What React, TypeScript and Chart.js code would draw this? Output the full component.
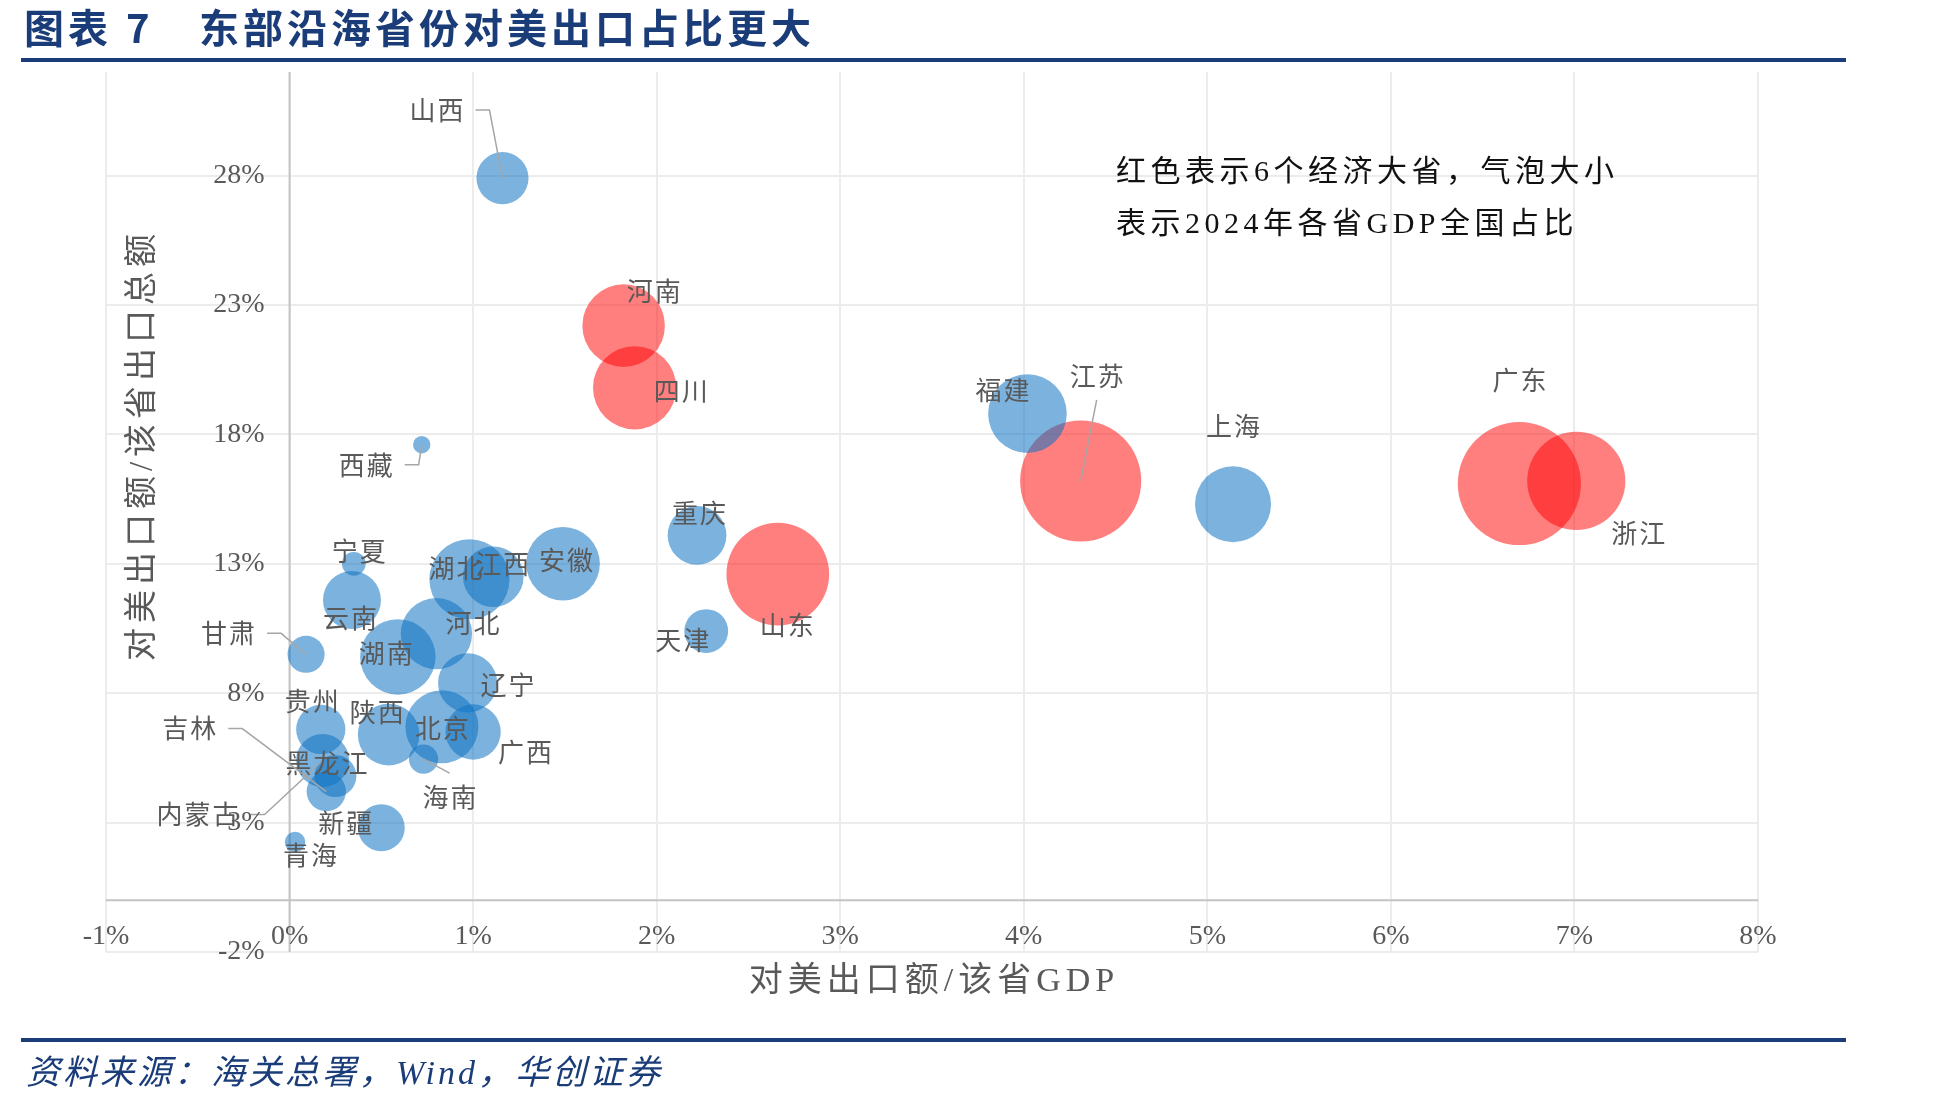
import React, { useEffect, useRef } from 'react';
import { Chart, registerables } from 'chart.js';

Chart.register(...registerables);

// Provinces and their values
const provinces = [
  '山西', '河南', '四川', '西藏', '福建', '江苏', '上海', '广东', '浙江', '重庆',
  '山东', '天津', '安徽', '江西', '湖北', '宁夏', '云南', '河北', '湖南', '甘肃',
  '辽宁', '贵州', '陕西', '北京', '广西', '海南', '内蒙古', '黑龙江', '吉林', '新疆', '青海',
];
// exports to the US / provincial GDP (%)
const exportToGdp = [
  1.16, 1.82, 1.88, 0.72, 4.02, 4.31, 5.14, 6.70, 7.01, 2.22,
  2.66, 2.27, 1.49, 1.11, 0.98, 0.35, 0.34, 0.80, 0.59, 0.09,
  0.97, 0.17, 0.54, 0.83, 1.00, 0.73, 0.18, 0.25, 0.20, 0.50, 0.03,
];
// exports to the US / total provincial exports (%)
const usShareOfExports = [
  27.9, 22.2, 19.8, 17.6, 18.8, 16.2, 15.3, 16.1, 16.2, 14.1,
  12.6, 10.4, 13.0, 12.5, 12.4, 13.0, 11.6, 10.3, 9.4, 9.5,
  8.4, 6.6, 6.4, 6.7, 6.5, 5.45, 5.4, 4.8, 4.2, 2.8, 2.25,
];
// 2024 provincial GDP as share of national GDP (%) -> bubble area
const gdpShare2024 = [
  1.88, 4.72, 4.80, 0.21, 4.28, 10.16, 4.00, 10.50, 6.68, 2.39,
  7.31, 1.33, 3.75, 2.54, 4.45, 0.39, 2.33, 3.52, 3.94, 0.95,
  2.42, 1.68, 2.63, 3.69, 2.12, 0.59, 1.95, 1.22, 1.07, 1.52, 0.29,
];
const majorProvinces = ['广东', '江苏', '山东', '浙江', '四川', '河南'];

const xTickValues = [-1, 0, 1, 2, 3, 4, 5, 6, 7, 8];
const yTickValues = [-2, 3, 8, 13, 18, 23, 28];

const titleText = '东部沿海省份对美出口占比更大';
const sourceText = '资料来源：海关总署，Wind，华创证券';
const noteLines = ['红色表示6个经济大省，气泡大小', '表示2024年各省GDP全国占比'];
const xAxisTitle = '对美出口额/该省GDP';
const yAxisTitle = '对美出口额/该省出口总额';

// ---- styling ----
const NAVY = '#1a3c78';
const LABEL_GREY = '#595959';
const SERIF = '"Liberation Serif", "Noto Sans CJK SC", serif';
const CJK = '"Noto Sans CJK SC", sans-serif';
const BUBBLE_SCALE = 19; // px radius per sqrt(% of GDP)

// label placement relative to bubble centre (px); leader: 'side' | 'below' | 'above'
const labelPlacement: Record<string, { dx: number; dy: number; leader?: string }> = {
  山西: { dx: -66, dy: -68, leader: 'side' },
  河南: { dx: 30, dy: -35 },
  四川: { dx: 46, dy: 3 },
  西藏: { dx: -56, dy: 20, leader: 'side' },
  福建: { dx: -25, dy: -24 },
  江苏: { dx: 16, dy: -105, leader: 'below' },
  上海: { dx: 0, dy: -78 },
  广东: { dx: 0, dy: -103 },
  浙江: { dx: 62, dy: 52 },
  重庆: { dx: 2, dy: -22 },
  山东: { dx: 9, dy: 51 },
  天津: { dx: -24, dy: 9 },
  安徽: { dx: 3, dy: -4 },
  江西: { dx: 9, dy: -13 },
  湖北: { dx: -14, dy: -11 },
  宁夏: { dx: 5, dy: -13 },
  云南: { dx: -2, dy: 18 },
  河北: { dx: 36, dy: -11 },
  湖南: { dx: -12, dy: -4 },
  甘肃: { dx: -78, dy: -21, leader: 'side' },
  辽宁: { dx: 40, dy: 2 },
  贵州: { dx: -9, dy: -28 },
  陕西: { dx: -12, dy: -22 },
  北京: { dx: 0, dy: 1 },
  广西: { dx: 52, dy: 20 },
  海南: { dx: 26, dy: 38, leader: 'above' },
  内蒙古: { dx: -125, dy: 54, leader: 'side' },
  黑龙江: { dx: -9, dy: -13 },
  吉林: { dx: -137, dy: -63, leader: 'side' },
  新疆: { dx: -36, dy: -5 },
  青海: { dx: 15, dy: 13 },
};

function pointsFor(major: boolean) {
  return provinces
    .map((name, i) => ({ name, i }))
    .filter((p) => majorProvinces.includes(p.name) === major)
    .map(({ i }) => ({
      x: exportToGdp[i],
      y: usShareOfExports[i],
      r: BUBBLE_SCALE * Math.sqrt(gdpShare2024[i]),
    }));
}

const decorations = {
  id: 'decorations',
  beforeDatasetsDraw(chart: any) {
    const { ctx, chartArea, scales } = chart;
    const xs = scales.x;
    const ys = scales.y;
    const x0 = xs.getPixelForValue(0);
    const y0 = ys.getPixelForValue(0);
    ctx.save();
    ctx.strokeStyle = '#c4c4c4';
    ctx.lineWidth = 2;
    ctx.beginPath();
    ctx.moveTo(chartArea.left, y0);
    ctx.lineTo(chartArea.right, y0);
    ctx.moveTo(x0, chartArea.top);
    ctx.lineTo(x0, chartArea.bottom);
    ctx.stroke();
    ctx.restore();
  },
  afterDatasetsDraw(chart: any) {
    const { ctx, scales } = chart;
    const xs = scales.x;
    const ys = scales.y;
    const x0 = xs.getPixelForValue(0);
    const y0 = ys.getPixelForValue(0);
    ctx.save();

    // bubble labels and leader lines
    ctx.font = `26px ${CJK}`;
    ctx.letterSpacing = '2px';
    ctx.textBaseline = 'middle';
    ctx.textAlign = 'center';
    provinces.forEach((name, i) => {
      const px = xs.getPixelForValue(exportToGdp[i]);
      const py = ys.getPixelForValue(usShareOfExports[i]);
      const pl = labelPlacement[name];
      const lx = px + pl.dx;
      const ly = py + pl.dy;
      const w = ctx.measureText(name).width;
      if (pl.leader) {
        ctx.strokeStyle = '#a6a6a6';
        ctx.lineWidth = 1.5;
        ctx.beginPath();
        if (pl.leader === 'side') {
          const sx = lx + w / 2 + 11;
          ctx.moveTo(sx, ly);
          ctx.lineTo(sx + 14, ly);
        } else if (pl.leader === 'below') {
          ctx.moveTo(lx, ly + 24);
        } else {
          ctx.moveTo(lx, ly - 24);
        }
        ctx.lineTo(px, py);
        ctx.stroke();
      }
      ctx.fillStyle = LABEL_GREY;
      ctx.fillText(name, lx + 1, ly);
    });

    // tick labels beside the axes that cross at zero
    ctx.letterSpacing = '0px';
    ctx.font = `28px ${SERIF}`;
    ctx.fillStyle = LABEL_GREY;
    ctx.textAlign = 'center';
    xTickValues.forEach((v) => {
      ctx.fillText(`${v}%`, xs.getPixelForValue(v), y0 + 36);
    });
    ctx.textAlign = 'right';
    yTickValues.forEach((v) => {
      ctx.fillText(`${v}%`, x0 - 25, ys.getPixelForValue(v));
    });

    // axis titles
    ctx.textAlign = 'center';
    ctx.font = `34px ${SERIF}`;
    ctx.letterSpacing = '5px';
    ctx.fillText(xAxisTitle, (chart.chartArea.left + chart.chartArea.right) / 2 + 2, 982);
    ctx.save();
    ctx.translate(143, 445);
    ctx.rotate(-Math.PI / 2);
    ctx.font = `33px ${SERIF}`;
    ctx.letterSpacing = '5px';
    ctx.fillText(yAxisTitle, 0, 0);
    ctx.restore();

    // note in the upper right
    ctx.textAlign = 'left';
    ctx.fillStyle = '#111111';
    ctx.font = `30px ${SERIF}`;
    ctx.letterSpacing = '4.5px';
    ctx.fillText(noteLines[0], 1116, 173);
    ctx.fillText(noteLines[1], 1116, 225);

    // heading, rules and source line
    ctx.fillStyle = NAVY;
    ctx.font = `bold 40px ${CJK}`;
    ctx.letterSpacing = '4px';
    ctx.fillText('图表', 24, 28);
    ctx.fillText('7', 126, 28);
    ctx.fillText(titleText, 199, 28);
    ctx.fillRect(21, 58, 1825, 4);
    ctx.fillRect(21, 1038, 1825, 4);
    ctx.font = `italic 34px ${SERIF}`;
    ctx.letterSpacing = '3px';
    ctx.fillText(sourceText, 26, 1075);
    ctx.restore();
  },
};

export default function App() {
  const canvasRef = useRef<HTMLCanvasElement | null>(null);

  useEffect(() => {
    const canvas = canvasRef.current;
    if (!canvas) return;
    const chart = new Chart(canvas, {
      type: 'bubble',
      data: {
        datasets: [
          {
            label: '其他省份',
            data: pointsFor(false),
            backgroundColor: 'rgba(15,115,195,0.55)',
            borderWidth: 0,
          },
          {
            label: '经济大省',
            data: pointsFor(true),
            backgroundColor: 'rgba(255,0,0,0.5)',
            borderWidth: 0,
          },
        ],
      },
      options: {
        responsive: false,
        animation: false,
        devicePixelRatio: 1,
        events: [],
        layout: { padding: { left: 106, right: 198, top: 72, bottom: 156 } },
        plugins: {
          legend: { display: false },
          tooltip: { enabled: false },
          title: { display: false },
        },
        scales: {
          x: {
            type: 'linear',
            min: -1,
            max: 8,
            ticks: { display: false, stepSize: 1 },
            afterBuildTicks: (scale: any) => {
              scale.ticks = xTickValues.map((v) => ({ value: v }));
            },
            grid: { color: '#ececec', lineWidth: 2, drawTicks: false },
            border: { display: false },
          },
          y: {
            type: 'linear',
            min: -2,
            max: 32,
            ticks: { display: false },
            afterBuildTicks: (scale: any) => {
              scale.ticks = yTickValues.map((v) => ({ value: v }));
            },
            grid: { color: '#ececec', lineWidth: 2, drawTicks: false },
            border: { display: false },
          },
        },
      },
      plugins: [decorations],
    });
    return () => chart.destroy();
  }, []);

  return (
    <div style={{ position: 'fixed', left: 0, top: 0, width: 1956, height: 1108, background: '#fff' }}>
      <canvas ref={canvasRef} width={1956} height={1108} style={{ width: 1956, height: 1108, display: 'block' }} />
    </div>
  );
}
